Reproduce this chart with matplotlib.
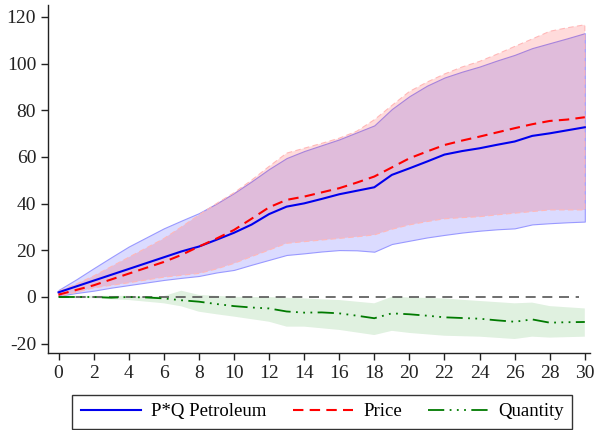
import numpy as np
import matplotlib
matplotlib.use("Agg")
import matplotlib.pyplot as plt

plt.rcParams['font.family'] = ['Liberation Serif', 'DejaVu Serif']
plt.rcParams['axes.unicode_minus'] = False

# horizon (periods)
horizon = np.arange(0, 31)

# cumulative responses and their bands
pq = [2, 4.5, 7, 9.5, 12, 14.5, 17, 19.5, 21.6, 24.5, 27.5, 31, 35.5, 38.7, 40.1, 42,
      44, 45.5, 47, 52.3, 55.1, 58, 61, 62.5, 63.7, 65.2, 66.6, 69, 70.1, 71.4, 72.7]
pq_hi = [3, 7.5, 12.3, 17, 21.6, 25.5, 29.4, 32.7, 35.9, 40, 44.5, 49.5, 54.8, 59.5, 62.5, 65,
         67.5, 70.5, 73.5, 80.5, 86, 90.5, 94, 96.5, 98.7, 101.3, 103.7, 106.6, 108.7, 110.8, 113]
pq_lo = [0.5, 1.7, 2.7, 4, 5.1, 6.2, 7.3, 8.2, 9, 10.5, 11.6, 13.8, 15.9, 18, 18.7, 19.5,
         20.1, 20, 19.4, 22.7, 24.1, 25.5, 26.6, 27.6, 28.4, 29, 29.4, 31.1, 31.6, 32, 32.3]

price = [1, 3, 5, 7.5, 10, 12.5, 15, 18, 21.6, 25, 28.7, 33.5, 38.4, 41.6, 43, 44.8,
         46.6, 49, 51.6, 55.5, 59.4, 62.3, 65.1, 67, 68.7, 70.5, 72.3, 74, 75.4, 76, 77]
price_hi = [2.5, 5.5, 9, 13, 17, 21, 25, 30, 35.1, 40, 44.6, 50, 55.9, 61.6, 63.7, 65.8,
            68, 71, 75.9, 82, 88, 92, 95.5, 98.5, 100.9, 104, 107.3, 110.5, 113.8, 115.3, 116.6]
price_lo = [0.3, 2, 3.9, 5, 6.1, 7.3, 8.5, 9.3, 10.1, 12, 14.4, 17.3, 20.1, 23, 23.7, 24.4,
            25.1, 25.8, 26.6, 29, 30.9, 32.3, 33.5, 34, 34.4, 35.2, 35.9, 36.6, 37.3, 37.3, 37.3]

qty = [0, 0, 0, -0.3, 0, -0.2, -0.6, -1.4, -2, -3, -3.9, -4.5, -4.9, -6.2, -6.7, -6.6,
       -7, -8, -9.1, -7, -7.4, -8, -8.7, -9, -9.3, -10, -10.6, -9.6, -11, -10.8, -10.7]
qty_hi = [0.5, 0.5, 0.5, 0.5, 0.5, 0.1, 0.4, 2.7, 0.9, 0.5, 0.1, 0, 0, -0.3, -0.6, -1,
          -1.3, -2, -2.7, 0.1, -0.2, -0.4, -0.6, -1.2, -1.7, -2.2, -2.7, -2.4, -3.9, -4.4, -4.9]
qty_lo = [-0.5, -0.5, -0.5, -1, -1.3, -2, -2.7, -4, -6.3, -7.4, -8.4, -9.5, -10.6, -12.7, -12.7, -13.4,
          -14.1, -15.2, -16.3, -14.5, -15.4, -16, -16.6, -16.8, -17, -17.5, -18, -17, -17.4, -17.2, -17]

fig = plt.figure(figsize=(5.97, 4.30), dpi=100)
ax = fig.add_axes([0.0804, 0.179, 0.908, 0.809])

# confidence bands
ax.fill_between(horizon, pq_lo, pq_hi, facecolor=(0, 0, 1, 0.14),
                edgecolor=(0.6, 0.6, 1.0), linewidth=0.8, zorder=1)
ax.fill_between(horizon, price_lo, price_hi, facecolor=(1, 0, 0, 0.14),
                edgecolor=(1.0, 0.72, 0.72), linewidth=0.8, linestyle=(0, (5, 3)), zorder=2)
ax.fill_between(horizon, qty_lo, qty_hi, facecolor=(0, 0.55, 0, 0.12),
                edgecolor='none', zorder=1)

ax.axhline(0, color='#555555', lw=1.2, ls=(0, (6, 4)), xmin=0.02, xmax=0.98, zorder=3)

l1, = ax.plot(horizon, pq, color='#0000ee', lw=1.5, zorder=5)
l2, = ax.plot(horizon, price, color='#ff0000', lw=1.5, ls=(0, (5, 3)), zorder=5)
l3, = ax.plot(horizon, qty, color='#007a00', lw=1.3,
              ls=(0, (9, 3, 1, 3, 1, 3, 1, 3)), zorder=5)

ax.set_xlim(-0.6, 30.3)
ax.set_ylim(-24, 125)
ax.set_xticks(np.arange(0, 31, 2))
ax.set_yticks(np.arange(-20, 121, 20))

for s in ['top', 'right']:
    ax.spines[s].set_visible(False)
for s in ['left', 'bottom']:
    ax.spines[s].set_color('#222222')
    ax.spines[s].set_linewidth(1.0)
ax.tick_params(direction='out', length=5, width=1, colors='#222222',
               labelsize=14, labelcolor='#222222')

fig.legend([l1, l2, l3], ['P*Q Petroleum', 'Price', 'Quantity'],
           loc='center', bbox_to_anchor=(0.540, 0.043), ncol=3,
           fancybox=False, edgecolor='#333333', framealpha=1,
           fontsize=13.5, handlelength=3.2, columnspacing=1.4,
           borderpad=0.45, handletextpad=0.55)

fig.savefig('out.png', dpi=100)
